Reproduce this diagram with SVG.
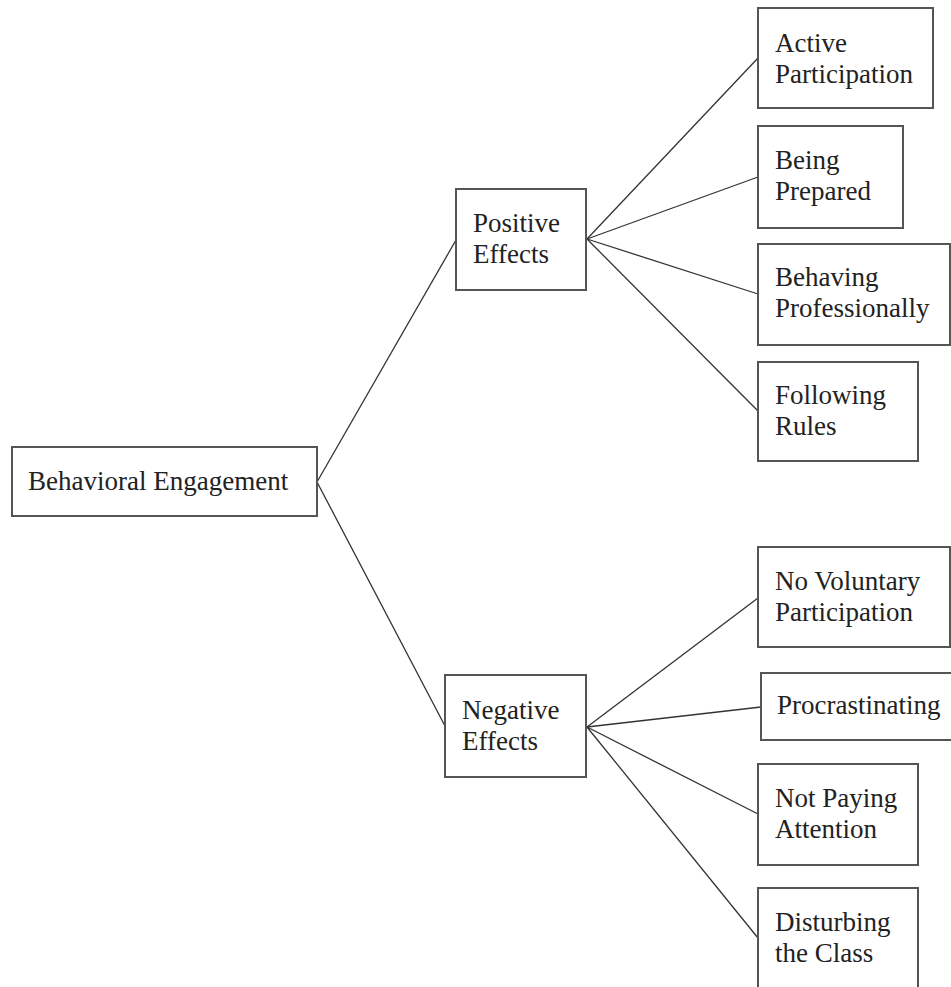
<svg xmlns="http://www.w3.org/2000/svg" width="951" height="987" viewBox="0 0 951 987">
<style>
.box{fill:#fff;stroke:#555;stroke-width:2}
.t{font-family:"Liberation Serif","Times New Roman",serif;font-size:27px;fill:#222}
.c{stroke:#333;stroke-width:1.3;fill:none}
</style>
<rect width="951" height="987" fill="#fff"/>
<g id="connectors">
<line class="c" x1="317" y1="482" x2="456" y2="240"/>
<line class="c" x1="317" y1="482" x2="445" y2="726"/>
<line class="c" x1="587" y1="239" x2="758" y2="58"/>
<line class="c" x1="587" y1="239" x2="758" y2="177"/>
<line class="c" x1="587" y1="239" x2="758" y2="294"/>
<line class="c" x1="587" y1="239" x2="758" y2="411"/>
<line class="c" x1="587" y1="727" x2="758" y2="598"/>
<line class="c" x1="587" y1="727" x2="761" y2="707"/>
<line class="c" x1="587" y1="727" x2="758" y2="814"/>
<line class="c" x1="587" y1="727" x2="758" y2="938"/>
</g>
<g id="behavioral-engagement"><rect class="box" x="12" y="447" width="305" height="69"/><text class="t" x="28" y="490">Behavioral Engagement</text></g>
<g id="positive-effects"><rect class="box" x="456" y="189" width="130" height="101"/><text class="t" x="473" y="232">Positive</text><text class="t" x="473" y="263">Effects</text></g>
<g id="negative-effects"><rect class="box" x="445" y="675" width="141" height="102"/><text class="t" x="462" y="719">Negative</text><text class="t" x="462" y="750">Effects</text></g>
<g id="active-participation"><rect class="box" x="758" y="8" width="175" height="100"/><text class="t" x="775" y="52">Active</text><text class="t" x="775" y="83">Participation</text></g>
<g id="being-prepared"><rect class="box" x="758" y="126" width="145" height="102"/><text class="t" x="775" y="169">Being</text><text class="t" x="775" y="200">Prepared</text></g>
<g id="behaving-professionally"><rect class="box" x="758" y="244" width="192" height="101"/><text class="t" x="775" y="286">Behaving</text><text class="t" x="775" y="317">Professionally</text></g>
<g id="following-rules"><rect class="box" x="758" y="362" width="160" height="99"/><text class="t" x="775" y="404">Following</text><text class="t" x="775" y="435">Rules</text></g>
<g id="no-voluntary-participation"><rect class="box" x="758" y="547" width="192" height="100"/><text class="t" x="775" y="590">No Voluntary</text><text class="t" x="775" y="621">Participation</text></g>
<g id="procrastinating"><rect class="box" x="761" y="673" width="192" height="67"/><text class="t" x="777" y="714">Procrastinating</text></g>
<g id="not-paying-attention"><rect class="box" x="758" y="764" width="160" height="101"/><text class="t" x="775" y="807">Not Paying</text><text class="t" x="775" y="838">Attention</text></g>
<g id="disturbing-the-class"><rect class="box" x="758" y="888" width="160" height="102"/><text class="t" x="775" y="931">Disturbing</text><text class="t" x="775" y="962">the Class</text></g>
</svg>
